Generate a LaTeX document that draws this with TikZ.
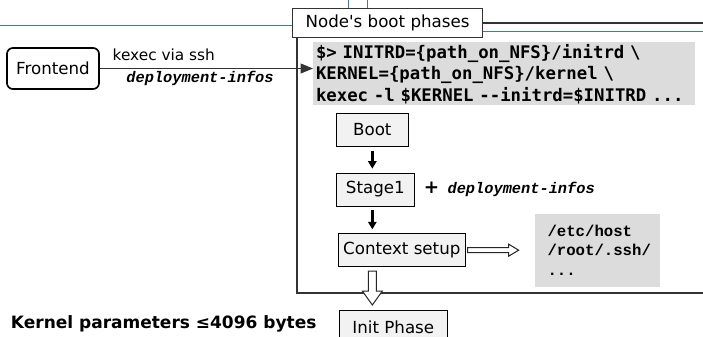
\documentclass[tikz,border=0pt]{standalone}
\usepackage{fontspec}
\setmainfont{DejaVu Sans}
\setmonofont{DejaVu Sans Mono}
\newfontfamily\courfont{Liberation Mono}
\usetikzlibrary{positioning}
\usetikzlibrary{calc}
\usetikzlibrary{arrows.meta}
\definecolor{codegray}{RGB}{220,220,220}
\definecolor{boxgray}{RGB}{242,242,242}
\definecolor{sketchblue}{RGB}{68,114,196}

\begin{document}
\begin{tikzpicture}[x=0.6pt, y=-0.6pt,
	phase/.style={draw, fill=boxgray, minimum height=19.8pt, inner sep=0pt, font=\fontsize{10}{12}\selectfont},
	flow/.style={-{Triangle[length=4.5pt,width=5pt]}, line width=1.5pt, shorten <=2.4pt, shorten >=2.4pt},
	bigarrow/.style={draw=black!85, fill=white, line width=0.6pt},
	frame/.style={draw=black!80, line width=0.7pt},
	bluelines/.style={draw=sketchblue, line width=0.6pt},
	infos/.style={font=\courfont\bfseries\itshape\fontsize{9.2}{11}\selectfont}]
	\useasboundingbox (0,0) rectangle (703,336);
	\clip (0,0) rectangle (703,336);
	\draw[bluelines] (0,25) -- (292,25) (348,0) -- (348,8) (367,0) -- (367,8) (482,31) -- (703,31);
	\draw[frame] (297,23) rectangle (720,293);
	\node[frame, fill=white, anchor=north west, minimum width=114pt, minimum height=17.4pt, inner sep=0pt, font=\fontsize{10}{12}\selectfont] (title) at (292,8) {Node\textquotesingle s boot phases};
	\node[draw, rounded corners=3.5pt, line width=1pt, minimum width=55.2pt, minimum height=24.6pt, inner sep=0pt, font=\fontsize{10}{12}\selectfont] (frontend) at (53,68.5) {Frontend};
	\node[fill=codegray, anchor=north west, text width=226pt, inner xsep=1.6pt, inner ysep=0pt, minimum height=37.8pt, align=left, font=\ttfamily\bfseries\fontsize{10.4}{12.9}\selectfont] (cmd) at (313,42)
		{\$> INITRD=\{path\_on\_NFS\}/initrd \textbackslash\\
		KERNEL=\{path\_on\_NFS\}/kernel \textbackslash\\
		kexec -l \$KERNEL -{}-initrd=\$INITRD ...};
	\draw[-{Triangle[length=7.5pt,width=6pt]}, draw=black!80, line width=0.6pt] (frontend.east) -- (frontend.east -| cmd.west)
		node[pos=0.3, above=1pt, font=\fontsize{9.2}{11}\selectfont] {kexec via ssh}
		node[pos=0.47, below=0pt, inner sep=1pt, infos] {deployment-infos};
	\node[phase, anchor=north west, minimum width=43.2pt] (boot) at (336,113) {Boot};
	\node[phase, below=15.6pt of boot.south west, anchor=north west, minimum width=46.8pt] (stage1) {Stage1};
	\node[phase, below=16.2pt of stage1.south west, anchor=north west, xshift=1.2pt, minimum width=76.2pt] (ctx) {Context setup};
	\node[phase, below=25.8pt of ctx.south west, anchor=north west, xshift=0.6pt, minimum width=64.8pt] (init) {Init Phase};
	\draw[flow] (boot.south) -- (boot.south |- stage1.north);
	\draw[flow] (boot.south |- stage1.south) -- (boot.south |- ctx.north);
	\node[right=2pt of stage1] (plus) {{\bfseries\fontsize{11}{12}\selectfont +}\hspace{5pt}{\courfont\bfseries\itshape\fontsize{9.2}{11}\selectfont deployment-infos}};
	\node[fill=codegray, right=41.4pt of ctx, minimum width=75pt, minimum height=43.8pt, text width=60pt, align=left, font=\courfont\bfseries\fontsize{9.4}{11.7}\selectfont] (files)
		{/etc/host\\/root/.ssh/\\...};
	\draw[bigarrow] ($(ctx.east)+(2,-2.5)$) -- ++(41,0) -- ++(0,-3.5) -- ++(10,6) -- ++(-10,6) -- ++(0,-3.5) -- ++(-41,0) -- cycle;
	\draw[bigarrow] ($(boot.south |- ctx.south)+(-4,4)$) -- ++(0,20) -- ++(-6,0) -- ++(10,14) -- ++(10,-14) -- ++(-6,0) -- ++(0,-20) -- cycle;
	\node[left=10pt of init, yshift=1.5pt, font=\bfseries\fontsize{10.2}{12}\selectfont] (limit) {Kernel parameters ≤4096 bytes};
\end{tikzpicture}
\end{document}
